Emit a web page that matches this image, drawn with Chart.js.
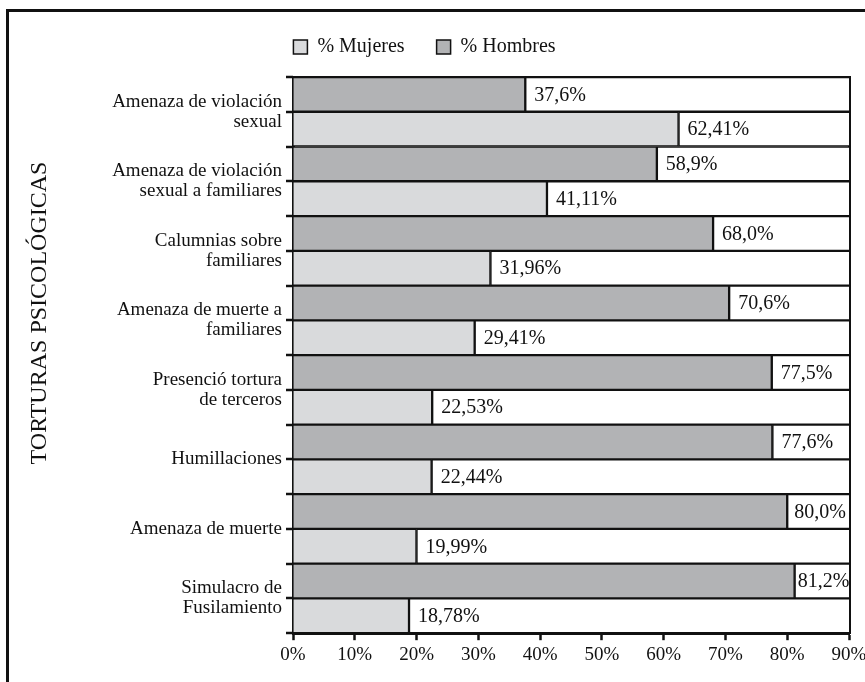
<!DOCTYPE html>
<html>
<head>
<meta charset="utf-8">
<script src="https://cdn.jsdelivr.net/npm/chart.js@4/dist/chart.umd.min.js"></script>
<style>
  html, body { margin: 0; padding: 0; background: #fff; }
  #wrap { position: relative; width: 865px; height: 682px; overflow: hidden; }
  #frame { position: absolute; left: 6px; top: 9px; width: 1000px; height: 1000px;
           border: 3px solid #111; box-sizing: border-box; }
  #c { position: absolute; left: 0; top: 0; }
</style>
</head>
<body>
<div id="wrap">
  <div id="frame"></div>
  <canvas id="c" width="865" height="682"></canvas>
</div>
<script>
// Psychological torture types, percentage of men and women
const categories = [
  ["Amenaza de violación", "sexual"],
  ["Amenaza de violación", "sexual a familiares"],
  ["Calumnias sobre", "familiares"],
  ["Amenaza de muerte a", "familiares"],
  ["Presenció tortura", "de terceros"],
  "Humillaciones",
  "Amenaza de muerte",
  ["Simulacro de", "Fusilamiento"]
];
const hombres = [37.6, 58.9, 68.0, 70.6, 77.5, 77.6, 80.0, 81.2];
const mujeres = [62.41, 41.11, 31.96, 29.41, 22.53, 22.44, 19.99, 18.78];
const xTicks = [0, 10, 20, 30, 40, 50, 60, 70, 80, 90];
const axisTitle = "TORTURAS PSICOLÓGICAS";

const X_MIN = xTicks[0];
const X_MAX = xTicks[xTicks.length - 1];
const SERIF = "'Liberation Serif', 'DejaVu Serif', serif";
const INK = '#111';

// white row frames spanning the whole value axis, one per bar slot
const frame = categories.map(() => X_MAX);

const fmt = (v, d) => v.toFixed(d).replace('.', ',') + '%';

// value labels just past the end of each filled bar
const valueLabels = {
  id: 'valueLabels',
  afterDatasetsDraw(chart) {
    const ctx = chart.ctx;
    const area = chart.chartArea;
    ctx.save();
    ctx.font = '20px ' + SERIF;
    ctx.fillStyle = INK;
    ctx.textBaseline = 'middle';
    ctx.textAlign = 'left';
    [0, 1].forEach(di => {
      const ds = chart.data.datasets[di];
      const meta = chart.getDatasetMeta(di);
      meta.data.forEach((bar, i) => {
        const txt = fmt(ds.data[i], ds.decimals);
        const w = ctx.measureText(txt).width;
        const x = Math.max(bar.x + 3, Math.min(bar.x + 9, area.right - w - 3));
        ctx.fillText(txt, x, bar.y + 1);
      });
    });
    ctx.restore();
  }
};

// tick marks on the category axis at every bar edge and category centre,
// plus the rotated axis title
const categoryAxisDecor = {
  id: 'categoryAxisDecor',
  afterDraw(chart) {
    const ctx = chart.ctx;
    const y = chart.scales.y;
    const area = chart.chartArea;
    const step = (y.getPixelForValue(1) - y.getPixelForValue(0)) / 2;
    ctx.save();
    ctx.strokeStyle = INK;
    ctx.lineWidth = 2.5;
    for (let i = 0; i <= categories.length * 2; i++) {
      const py = Math.round(y.getPixelForValue(0) - step + i * step);
      ctx.beginPath();
      ctx.moveTo(area.left - 7, py);
      ctx.lineTo(area.left, py);
      ctx.stroke();
    }
    ctx.translate(40, 313);
    ctx.rotate(-Math.PI / 2);
    ctx.font = '24px ' + SERIF;
    ctx.fillStyle = INK;
    ctx.textAlign = 'center';
    ctx.textBaseline = 'middle';
    ctx.fillText(axisTitle, 0, 0);
    ctx.restore();
  }
};

const common = { xAxisID: 'x', yAxisID: 'y', borderColor: INK, borderWidth: 1.5 };

new Chart(document.getElementById('c'), {
  type: 'bar',
  data: {
    labels: categories,
    datasets: [
      { ...common, label: '% Hombres', data: hombres, decimals: 1, stack: 'h', order: 0,
        backgroundColor: '#b2b3b5', borderSkipped: 'start' },
      { ...common, label: '% Mujeres', data: mujeres, decimals: 2, stack: 'm', order: 0,
        backgroundColor: '#d9dadc', borderSkipped: 'start' },
      { ...common, label: 'frameH', data: frame, stack: 'h', order: 1,
        backgroundColor: '#fff', borderSkipped: false },
      { ...common, label: 'frameM', data: frame, stack: 'm', order: 1,
        backgroundColor: '#fff', borderSkipped: false }
    ]
  },
  options: {
    indexAxis: 'y',
    responsive: false,
    animation: false,
    devicePixelRatio: 1,
    datasets: { bar: { barPercentage: 1, categoryPercentage: 1 } },
    layout: { padding: { top: 5, left: 0, right: 16, bottom: 13 } },
    plugins: {
      tooltip: { enabled: false },
      legend: {
        display: true,
        position: 'top',
        reverse: true,
        labels: {
          filter: item => item.text.startsWith('%'),
          boxWidth: 14, boxHeight: 14,
          color: INK,
          font: { family: SERIF, size: 20 },
          padding: 32
        }
      }
    },
    scales: {
      x: {
        type: 'linear',
        min: X_MIN, max: X_MAX,
        afterBuildTicks: s => { s.ticks = xTicks.map(v => ({ value: v })); },
        afterFit: s => { s.paddingRight = 14; },
        grid: { drawOnChartArea: false, drawTicks: true, tickLength: 7, tickWidth: 2.5, color: INK },
        border: { display: true, color: INK, width: 3 },
        ticks: { color: INK, font: { family: SERIF, size: 19 }, padding: 3,
                 callback: v => v + '%' }
      },
      y: {
        stacked: true,
        afterFit: s => { s.width = 293; },
        grid: { display: false },
        border: { display: true, color: INK, width: 3 },
        ticks: { color: INK, font: { family: SERIF, size: 19, lineHeight: 1.05 }, padding: 3 }
      },
      // top and right edges of the plot, drawn as bare axis lines
      xTop: {
        type: 'linear', position: 'top', min: X_MIN, max: X_MAX,
        afterFit: s => { s.height = 10; },
        grid: { display: false },
        ticks: { display: false },
        border: { display: true, color: INK, width: 3 }
      },
      yRight: {
        type: 'linear', position: 'right', min: 0, max: 1,
        afterFit: s => { s.width = 0; },
        grid: { display: false },
        ticks: { display: false },
        border: { display: true, color: INK, width: 3 }
      }
    }
  },
  plugins: [valueLabels, categoryAxisDecor]
});
</script>
</body>
</html>
